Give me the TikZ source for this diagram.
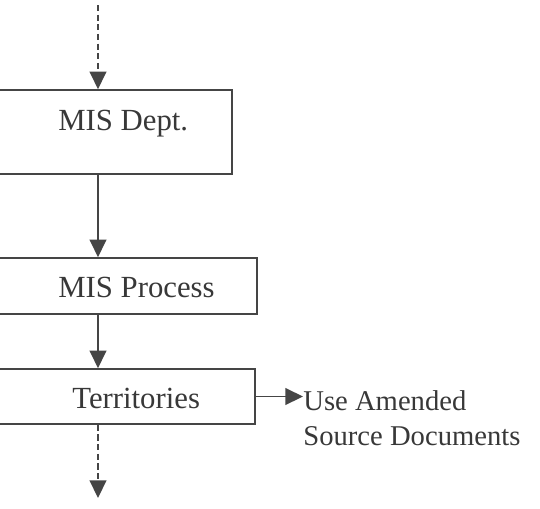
\documentclass[tikz,border=0pt]{standalone}
\usepackage{fontspec}
\setmainfont{Liberation Serif}
\usetikzlibrary{arrows.meta,positioning}
\definecolor{boxgray}{HTML}{454545}
\definecolor{textgray}{HTML}{383838}

\begin{document}
\begin{tikzpicture}[x=0.02cm,y=-0.02cm]
        \tikzset{
        mis box/.style={draw=boxgray,line width=0.9pt,inner sep=0},
        mis text/.style={font=\fontsize{17.5}{19.8}\selectfont,text=textgray,inner sep=0},
        mis note/.style={mis text,font=\fontsize{16.3}{19.8}\selectfont,align=left},
        mis arrow/.style={draw=boxgray,line width=0.9pt,-{Triangle[width=9.5pt,length=10pt]}},
        mis dash/.style={mis arrow,dash pattern=on 3.5pt off 2pt}
        }
        \useasboundingbox (0,0) rectangle (540,508);
        \clip (0,0) rectangle (540,508);
        % boxes run off the left edge
        \node[mis box,minimum width=5.04cm,minimum height=1.68cm] (dept) at (106,132) {};
        \node[mis box,minimum width=5.54cm,minimum height=1.12cm] (process) at (118.5,286) {};
        \node[mis box,minimum width=5.5cm,minimum height=1.1cm] (terr) at (117.5,396.5) {};

        \node[mis text,anchor=base west] (deptlabel) at (58,130) {MIS Dept.};
        \node[mis text,anchor=base west] (processlabel) at (58,297) {MIS Process};
        \node[mis text,anchor=base west] (terrlabel) at (72,408) {Territories};
        \node[mis note,anchor=west] (amended) at (303,418) {Use Amended\\Source Documents};

        \coordinate (top) at (98,5);
        \coordinate (bottom) at (98,498);

        \draw[mis dash] (top) -- (top |- dept.north);
        \draw[mis arrow] (dept.south -| top) -- (process.north -| top);
        \draw[mis arrow] (process.south -| top) -- (terr.north -| top);
        \draw[mis dash] (terr.south -| top) -- (bottom);
        \draw[mis arrow] (terr.east) -- (amended.west |- terr.east);
    \end{tikzpicture}
\end{document}
